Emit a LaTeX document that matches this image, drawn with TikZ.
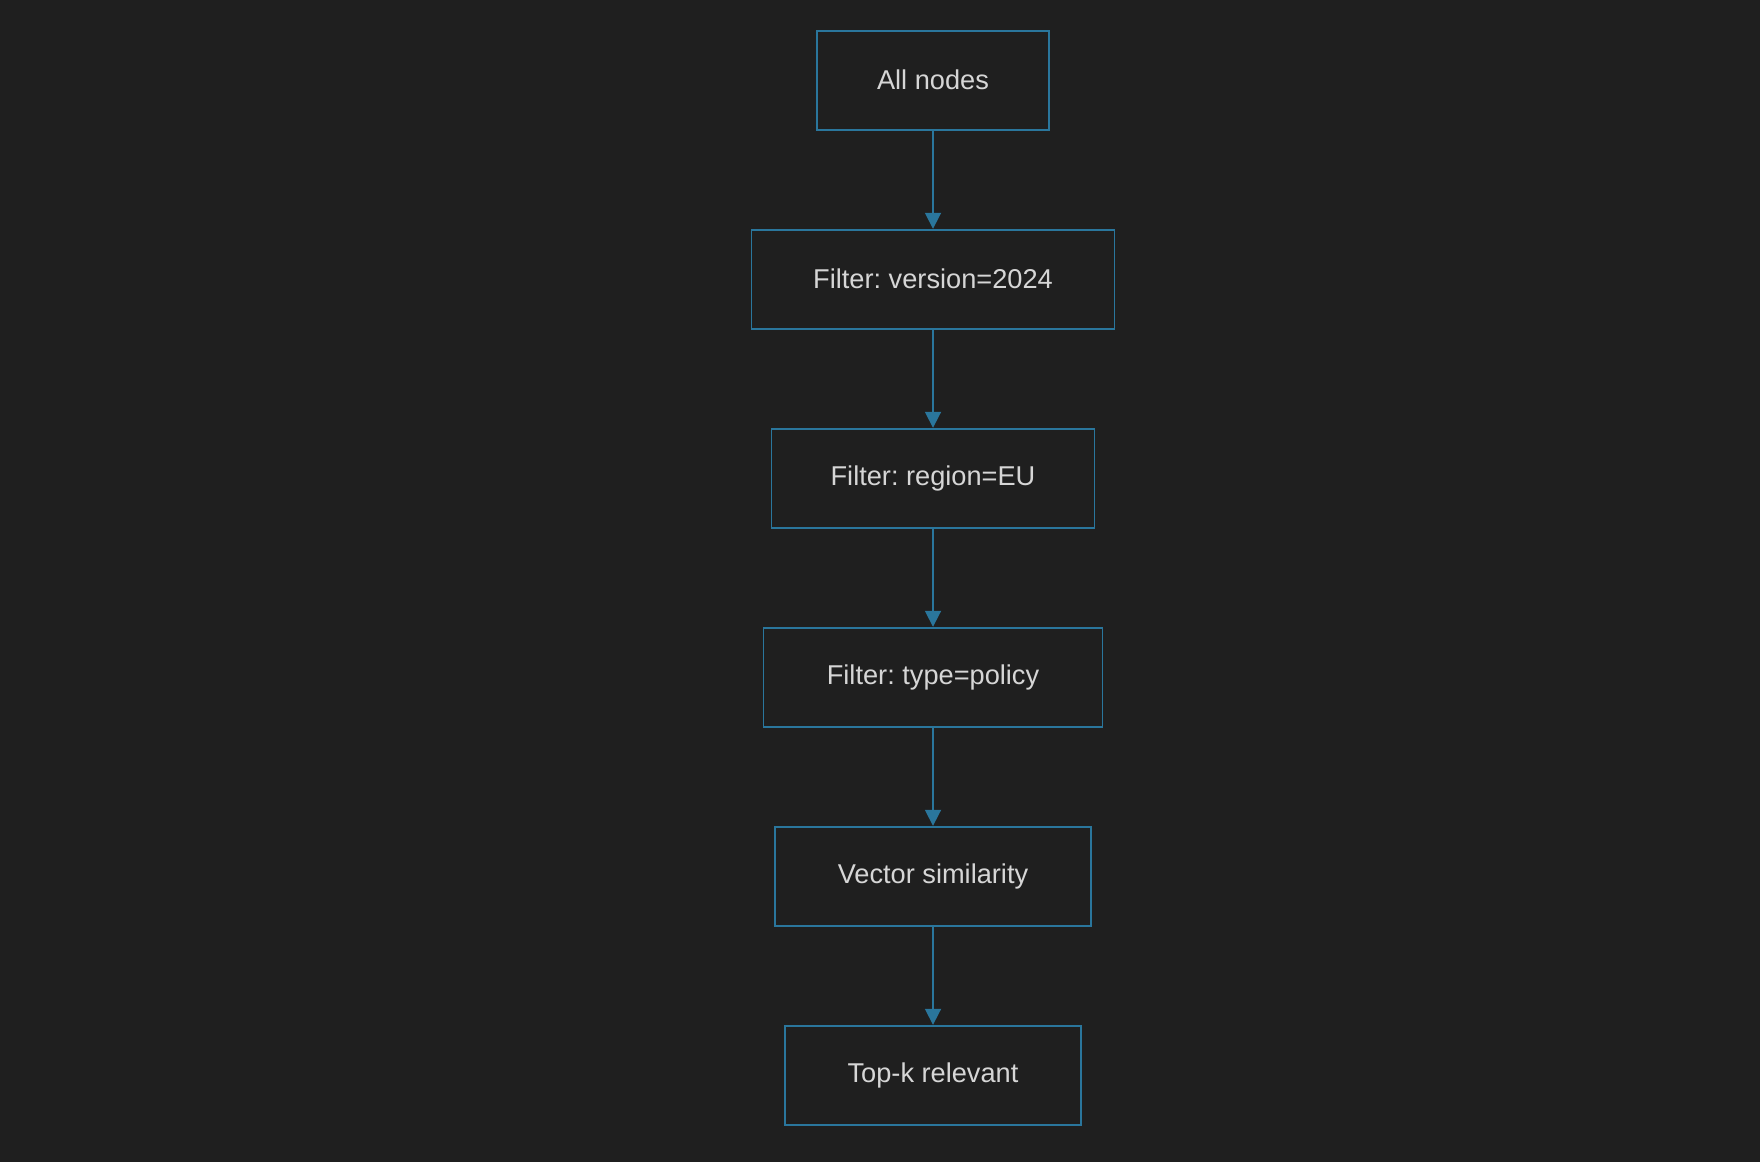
\documentclass[tikz,border=0pt]{standalone}
\usepackage{fontspec}
\setmainfont{Liberation Sans}
\frenchspacing
\usetikzlibrary{positioning}
\usetikzlibrary{arrows.meta}

\definecolor{BgGrey}{RGB}{31,31,31}
\definecolor{EdgeBlue}{RGB}{42,118,156}
\definecolor{LabelGrey}{RGB}{214,214,214}

\tikzset{
	stage/.style={draw=EdgeBlue, line width=0.9pt, minimum height=49.5pt, inner sep=0pt,
		text=LabelGrey, font=\fontsize{13.6}{16}\selectfont},
	flow/.style={draw=EdgeBlue, line width=0.9pt, -{Triangle[width=8pt,length=8pt]}},
}

\begin{document}
\begin{tikzpicture}
		
		% ---------------------
		% Canvas
		\fill[BgGrey] (0pt,0pt) rectangle (880pt,-581pt);
		\useasboundingbox (0pt,0pt) rectangle (880pt,-581pt);
		
		% ---------------------
		% Stages
		\node[stage, minimum width=116pt] (AllNodes) at (466.5pt,-40.1pt) {All nodes};
		\node[stage, minimum width=181.5pt, below=49.1pt of AllNodes] (Version) {Filter: version=2024};
		\node[stage, minimum width=161.5pt, below=49.1pt of Version] (Region) {Filter: region=EU};
		\node[stage, minimum width=169.5pt, below=49.1pt of Region] (Type) {Filter: type=policy};
		\node[stage, minimum width=158pt, below=49.1pt of Type] (Similarity) {Vector similarity};
		\node[stage, minimum width=148pt, below=49.1pt of Similarity] (TopK) {Top-k relevant};
		
		% ---------------------
		% Arrows
		\draw[flow] (AllNodes) -- (Version);
		\draw[flow] (Version) -- (Region);
		\draw[flow] (Region) -- (Type);
		\draw[flow] (Type) -- (Similarity);
		\draw[flow] (Similarity) -- (TopK);
		
\end{tikzpicture}
\end{document}
